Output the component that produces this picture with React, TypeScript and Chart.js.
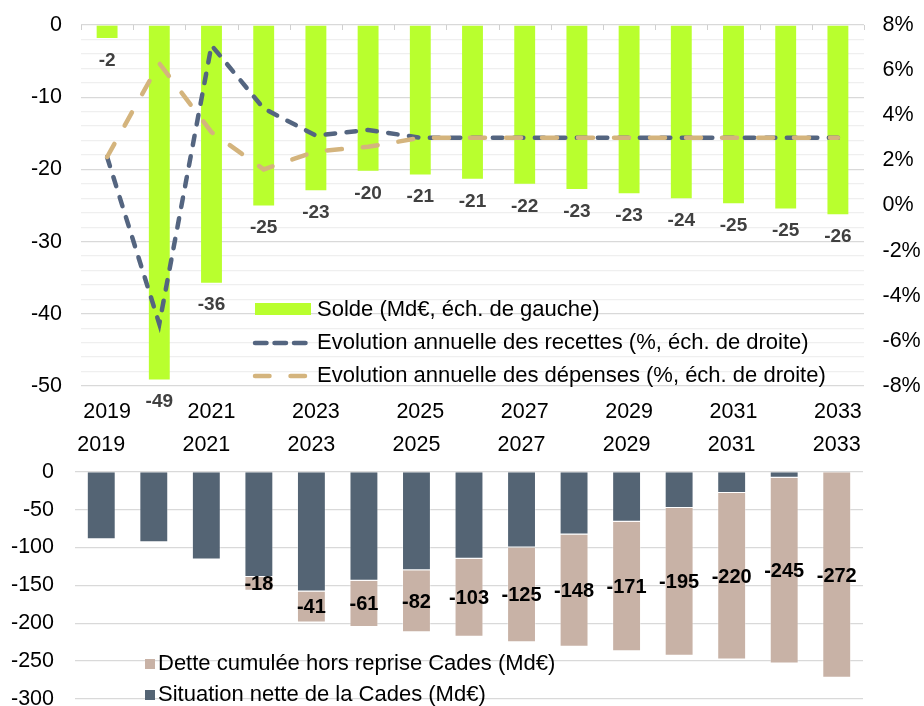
import React, { useEffect, useRef } from "react";
import { Chart, registerables } from "chart.js";

Chart.register(...registerables);

const FONT = "'Liberation Sans', Arial, Helvetica, sans-serif";

// ---------- data ----------
const years = ["2019", "2020", "2021", "2022", "2023", "2024", "2025", "2026", "2027", "2028", "2029", "2030", "2031", "2032", "2033"];

// Top chart (left axis, Md€)
const solde = [-1.8, -49.1, -35.7, -25.0, -22.9, -20.2, -20.7, -21.3, -22.0, -22.7, -23.3, -24.0, -24.7, -25.4, -26.2];
// Top chart (right axis, %)
const evolRecettes = [2.15, -5.25, 7.1, 4.3, 3.1, 3.35, 3.0, 3.0, 3.0, 3.0, 3.0, 3.0, 3.0, 3.0, 3.0];
const evolDepenses = [2.15, 6.3, 3.25, 1.6, 2.4, 2.6, 3.0, 3.0, 3.0, 3.0, 3.0, 3.0, 3.0, 3.0, 3.0];

// Bottom chart (Md€)
const situationNetteCades = [-89, -93, -116, -139, -158, -144, -130, -115, -100, -83, -66, -48, -28, -8, 0];
const detteHorsReprise = [null, null, null, -18, -41, -61, -82, -103, -125, -148, -171, -195, -220, -245, -272];

const topLabels = [
  "Solde (Md€, éch. de gauche)",
  "Evolution annuelle des recettes (%, éch. de droite)",
  "Evolution annuelle des dépenses (%, éch. de droite)",
];
const bottomLabels = [
  "Dette cumulée hors reprise Cades (Md€)",
  "Situation nette de la Cades (Md€)",
];

// ---------- styles ----------
const GREEN = "#b9ff2e";
const BLUE = "#546580";
const TAN = "#d4b47d";
const DARK = "#546474";
const BEIGE = "#c8b2a6";
const GRID_MAJOR = "#d9d9d9";
const GRID_MINOR = "#efefef";
const BLUE_DASH = [9.5, 11.5];
const TAN_DASH = [15, 21];
const TICK_SIZE = 21.5;
const LEGEND_SIZE = 22;

function TopChart() {
  const ref = useRef<HTMLCanvasElement>(null);
  useEffect(() => {
    const canvas = ref.current;
    if (!canvas) return;

    const tickMarks = {
      id: "tickMarks",
      afterDraw(chart: any) {
        const { ctx, chartArea } = chart;
        const n = years.length;
        const w = (chartArea.right - chartArea.left) / n;
        ctx.save();
        ctx.strokeStyle = "#d0d0d0";
        ctx.lineWidth = 1;
        for (let i = 0; i <= n; i++) {
          const x = Math.round(chartArea.left + i * w) + 0.5;
          ctx.beginPath();
          ctx.moveTo(x, chartArea.top);
          ctx.lineTo(x, chartArea.top + 5);
          ctx.stroke();
        }
        ctx.restore();
      },
    };

    const barLabels = {
      id: "barLabels",
      afterDatasetsDraw(chart: any) {
        const { ctx } = chart;
        const meta = chart.getDatasetMeta(0);
        ctx.save();
        ctx.font = `bold 19px ${FONT}`;
        ctx.fillStyle = "#404040";
        ctx.textAlign = "center";
        ctx.textBaseline = "middle";
        meta.data.forEach((el: any, i: number) => {
          ctx.fillText(String(Math.round(solde[i])), el.x, el.y + 22.5);
        });
        ctx.restore();
      },
    };

    const customLegend = {
      id: "customLegend",
      afterDraw(chart: any) {
        const { ctx } = chart;
        ctx.save();
        ctx.font = `${LEGEND_SIZE}px ${FONT}`;
        ctx.textAlign = "left";
        ctx.textBaseline = "middle";
        // bar item
        ctx.fillStyle = GREEN;
        ctx.fillRect(255, 303, 56, 12);
        ctx.fillStyle = "#000";
        ctx.fillText(topLabels[0], 317, 310);
        // recettes
        ctx.lineCap = "round";
        ctx.lineWidth = 4.5;
        ctx.strokeStyle = BLUE;
        ctx.setLineDash([11.5, 8]);
        ctx.beginPath();
        ctx.moveTo(255, 343);
        ctx.lineTo(306, 343);
        ctx.stroke();
        ctx.fillStyle = "#000";
        ctx.fillText(topLabels[1], 317, 343);
        // dépenses
        ctx.strokeStyle = TAN;
        ctx.setLineDash([14.5, 21]);
        ctx.beginPath();
        ctx.moveTo(255, 376);
        ctx.lineTo(306, 376);
        ctx.stroke();
        ctx.setLineDash([]);
        ctx.fillText(topLabels[2], 317, 376);
        ctx.restore();
      },
    };

    const chart = new Chart(canvas, {
      type: "bar",
      data: {
        labels: years,
        datasets: [
          {
            type: "bar",
            label: topLabels[0],
            data: solde,
            backgroundColor: GREEN,
            borderWidth: 0,
            yAxisID: "y",
            categoryPercentage: 1,
            barPercentage: 0.4,
            order: 2,
          },
          {
            type: "line",
            label: topLabels[1],
            data: evolRecettes,
            borderColor: BLUE,
            borderWidth: 4.5,
            borderDash: BLUE_DASH,
            borderCapStyle: "round",
            pointRadius: 0,
            tension: 0,
            fill: false,
            yAxisID: "y1",
            order: 1,
          },
          {
            type: "line",
            label: topLabels[2],
            data: evolDepenses,
            borderColor: TAN,
            borderWidth: 4.5,
            borderDash: TAN_DASH,
            borderCapStyle: "round",
            pointRadius: 0,
            tension: 0,
            fill: false,
            yAxisID: "y1",
            order: 0,
          },
        ] as any,
      },
      options: {
        responsive: true,
        maintainAspectRatio: false,
        animation: false,
        layout: { padding: { top: 25, left: 0, right: 0, bottom: 0 } },
        plugins: { legend: { display: false }, tooltip: { enabled: false } },
        scales: {
          x: {
            position: "bottom",
            grid: { display: false, drawTicks: false },
            border: { display: false },
            ticks: {
              autoSkip: false,
              maxRotation: 0,
              padding: 13.4,
              color: "#000",
              font: { family: FONT, size: TICK_SIZE },
              callback: (_v: any, i: number) => (i % 2 === 0 ? years[i] : ""),
            },
            afterFit: (s: any) => {
              s.height = 44;
              s.paddingLeft = 0;
              s.paddingRight = 0;
            },
          },
          y: {
            position: "left",
            min: -50,
            max: 0,
            border: { display: false },
            grid: {
              drawTicks: false,
              color: (c: any) => (Math.abs(c.tick.value % 10) < 1e-6 ? GRID_MAJOR : GRID_MINOR),
              lineWidth: 1.3,
            },
            ticks: {
              stepSize: 2,
              autoSkip: false,
              padding: 19,
              color: "#000",
              font: { family: FONT, size: TICK_SIZE },
              callback: (v: any) => (Math.abs(Number(v) % 10) < 1e-6 ? String(v) : ""),
            },
            afterFit: (s: any) => {
              s.width = 81;
              s.paddingTop = 0;
              s.paddingBottom = 0;
            },
          },
          y1: {
            position: "right",
            min: -8,
            max: 8,
            border: { display: false },
            grid: { drawOnChartArea: false, drawTicks: false },
            ticks: {
              stepSize: 2,
              autoSkip: false,
              padding: 18.5,
              color: "#000",
              font: { family: FONT, size: TICK_SIZE },
              callback: (v: any) => `${v}%`,
            },
            afterFit: (s: any) => {
              s.width = 60;
              s.paddingTop = 0;
              s.paddingBottom = 0;
            },
          },
        },
      } as any,
      plugins: [tickMarks, barLabels, customLegend],
    });
    return () => chart.destroy();
  }, []);
  return <canvas ref={ref} />;
}

function BottomChart() {
  const ref = useRef<HTMLCanvasElement>(null);
  useEffect(() => {
    const canvas = ref.current;
    if (!canvas) return;

    const stackLabels = {
      id: "stackLabels",
      afterDatasetsDraw(chart: any) {
        const { ctx } = chart;
        const meta = chart.getDatasetMeta(1);
        ctx.save();
        ctx.font = `bold 20px ${FONT}`;
        ctx.fillStyle = "#000";
        ctx.textAlign = "center";
        ctx.textBaseline = "middle";
        meta.data.forEach((el: any, i: number) => {
          const v = detteHorsReprise[i];
          if (v === null || v === undefined) return;
          ctx.fillText(String(v), el.x, (el.y + el.base) / 2 + 1);
        });
        ctx.restore();
      },
    };

    const customLegend = {
      id: "customLegendBottom",
      afterDraw(chart: any) {
        const { ctx } = chart;
        ctx.save();
        ctx.font = `${LEGEND_SIZE}px ${FONT}`;
        ctx.textAlign = "left";
        ctx.textBaseline = "middle";
        ctx.fillStyle = BEIGE;
        ctx.fillRect(145, 229, 10, 10);
        ctx.fillStyle = "#000";
        ctx.fillText(bottomLabels[0], 158, 233.5);
        ctx.fillStyle = DARK;
        ctx.fillRect(145, 260, 10, 10);
        ctx.fillStyle = "#000";
        ctx.fillText(bottomLabels[1], 158, 265);
        ctx.restore();
      },
    };

    const chart = new Chart(canvas, {
      type: "bar",
      data: {
        labels: years,
        datasets: [
          {
            label: bottomLabels[1],
            data: situationNetteCades,
            backgroundColor: DARK,
            borderColor: "rgba(255,255,255,0.35)",
            borderWidth: 1,
            categoryPercentage: 1,
            barPercentage: 0.55,
          },
          {
            label: bottomLabels[0],
            data: detteHorsReprise,
            backgroundColor: BEIGE,
            borderColor: "rgba(255,255,255,0.35)",
            borderWidth: 1,
            categoryPercentage: 1,
            barPercentage: 0.55,
          },
        ] as any,
      },
      options: {
        responsive: true,
        maintainAspectRatio: false,
        animation: false,
        layout: { padding: { top: 0, left: 0, right: 61, bottom: 31 } },
        plugins: { legend: { display: false }, tooltip: { enabled: false } },
        scales: {
          x: {
            position: "top",
            stacked: true,
            grid: { display: false, drawTicks: false },
            border: { display: false },
            ticks: {
              autoSkip: false,
              maxRotation: 0,
              padding: 13.8,
              color: "#000",
              font: { family: FONT, size: TICK_SIZE },
              callback: (_v: any, i: number) => (i % 2 === 0 ? years[i] : ""),
            },
            afterFit: (s: any) => {
              s.height = 41.7;
              s.paddingLeft = 0;
              s.paddingRight = 0;
            },
          },
          y: {
            stacked: true,
            min: -300,
            max: 0,
            border: { display: false },
            grid: { drawTicks: false, color: GRID_MAJOR, lineWidth: 1.3 },
            ticks: {
              stepSize: 50,
              autoSkip: false,
              padding: 21,
              color: "#000",
              font: { family: FONT, size: TICK_SIZE },
            },
            afterFit: (s: any) => {
              s.width = 75;
              s.paddingTop = 0;
              s.paddingBottom = 0;
            },
          },
        },
      } as any,
      plugins: [stackLabels, customLegend],
    });
    return () => chart.destroy();
  }, []);
  return <canvas ref={ref} />;
}

export default function App() {
  return (
    <div
      style={{
        position: "fixed",
        left: 0,
        top: 0,
        width: 924,
        height: 706,
        overflow: "hidden",
        background: "#fff",
      }}
    >
      <div style={{ position: "absolute", left: 0, top: 0, width: 924, height: 430 }}>
        <TopChart />
      </div>
      <div style={{ position: "absolute", left: 0, top: 430, width: 924, height: 300 }}>
        <BottomChart />
      </div>
    </div>
  );
}
